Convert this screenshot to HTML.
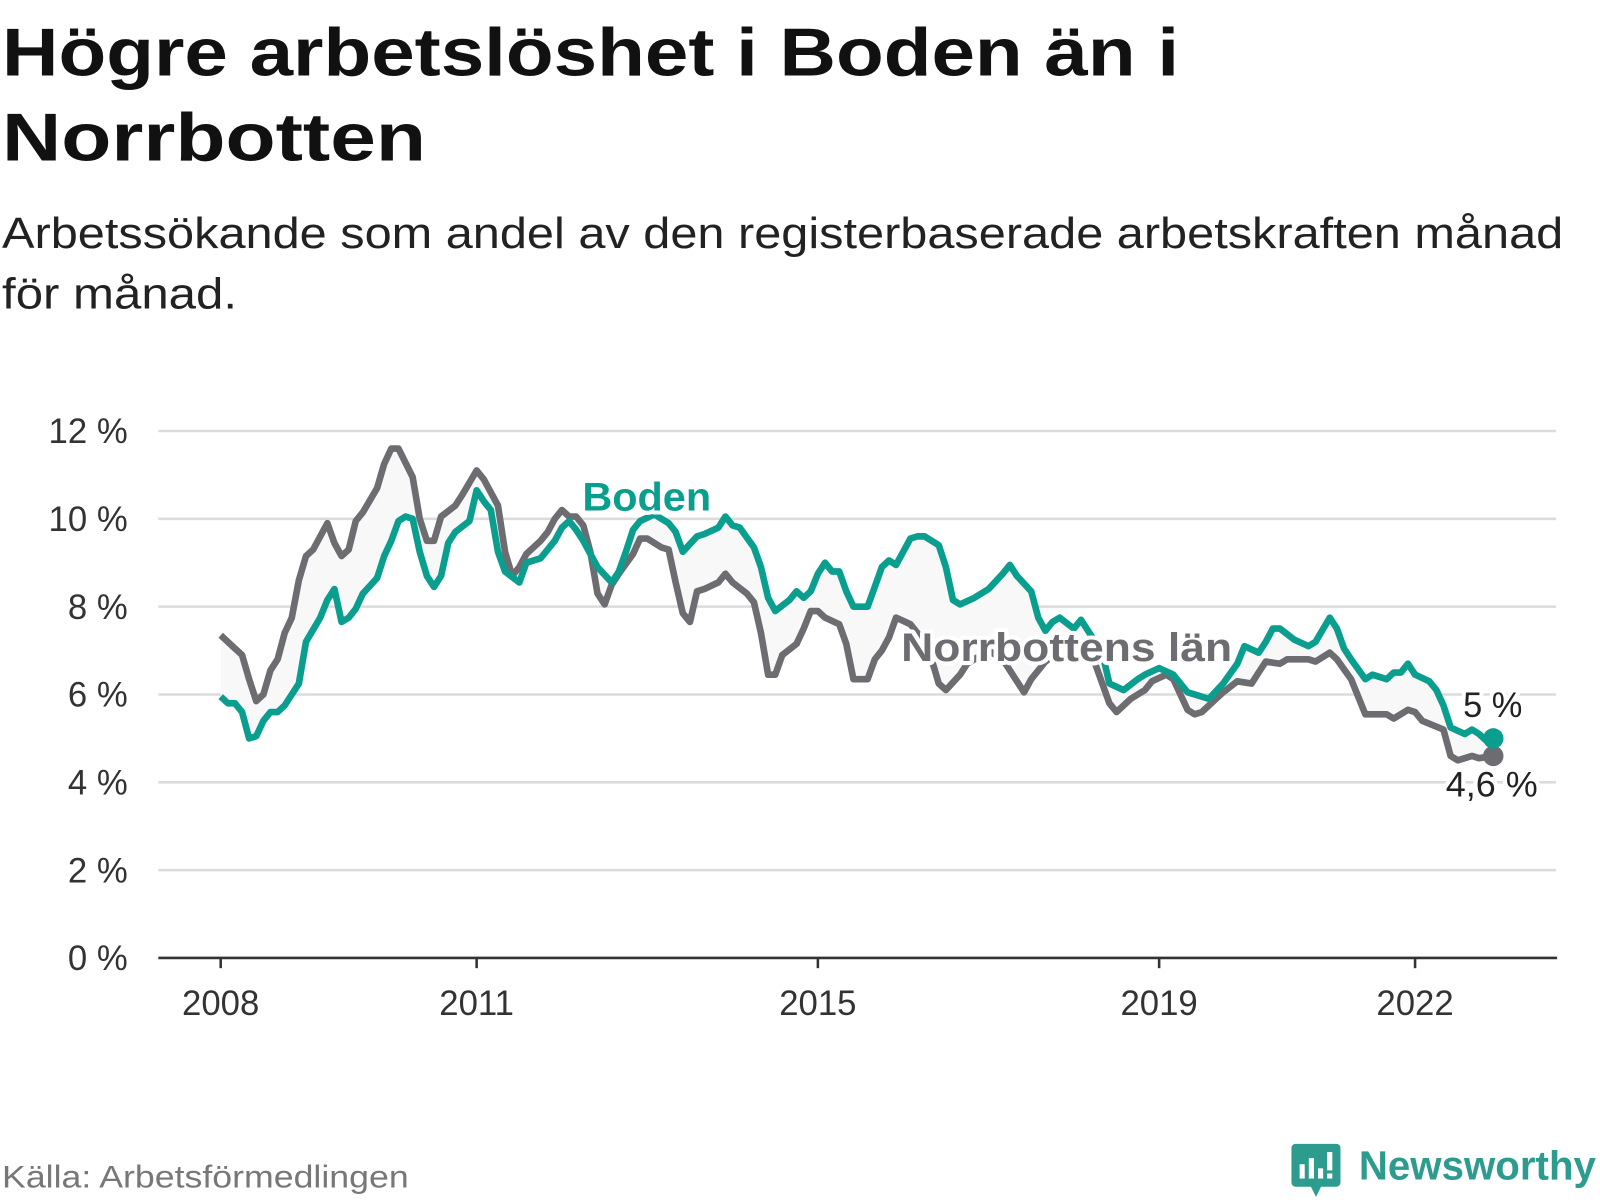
<!DOCTYPE html>
<html><head><meta charset="utf-8"><style>
html,body{margin:0;padding:0;background:#fff;}
svg{display:block;font-family:"Liberation Sans","DejaVu Sans",sans-serif;}
</style></head><body>
<svg id="chart" width="1600" height="1200" viewBox="0 0 1566 1175" preserveAspectRatio="none" xmlns="http://www.w3.org/2000/svg">
<text x="2" y="74" font-size="66" font-weight="bold" fill="#111" textLength="1152" lengthAdjust="spacingAndGlyphs">Högre arbetslöshet i Boden än i</text>
<text x="2" y="157" font-size="66" font-weight="bold" fill="#111" textLength="415" lengthAdjust="spacingAndGlyphs">Norrbotten</text>
<text x="2" y="243" font-size="43" fill="#222" textLength="1528" lengthAdjust="spacingAndGlyphs">Arbetssökande som andel av den registerbaserade arbetskraften månad</text>
<text x="2" y="302" font-size="43" fill="#222" textLength="230" lengthAdjust="spacingAndGlyphs">för månad.</text>
<g id="grid"></g>
<g id="marks"></g>
<text x="2" y="1163" font-size="31" fill="#777" textLength="398" lengthAdjust="spacingAndGlyphs">Källa: Arbetsförmedlingen</text>
<g>
<rect x="1264" y="1120" width="48" height="42" rx="4" fill="#2d9c8f"/>
<polygon points="1282,1160 1294,1160 1288,1172" fill="#2d9c8f"/>
<rect x="1272" y="1140" width="5" height="14" fill="#fff"/><rect x="1281" y="1134" width="5" height="20" fill="#fff"/><rect x="1290" y="1144" width="5" height="10" fill="#fff"/><rect x="1299" y="1128" width="5" height="18" fill="#fff"/><rect x="1299" y="1149" width="5" height="5" fill="#fff"/>
<text x="1330" y="1155" font-size="40" font-weight="bold" fill="#2d9c8f" textLength="232" lengthAdjust="spacingAndGlyphs">Newsworthy</text>
</g>
</svg>
<script>
const yTicks=[0,2,4,6,8,10,12];
const xTickYears=[2008,2011,2015,2019,2022];
const grayMonths=[0,2,3,4,5,6,7,8,9,10,11,12,13,15,16,17,18,19,20,22,23,24,25,27,28,29,30,31,33,34,36,37,39,40,41,42,43,45,46,47,48,49,50,51,52,53,54,55,56,58,59,60,62,63,64,65,66,67,68,70,71,72,74,75,76,77,78,79,81,82,83,84,85,87,88,89,91,92,93,94,95,97,98,100,101,102,104,105,108,110,113,114,116,118,121,123,125,126,128,130,131,133,134,136,137,138,140,141,143,145,146,147,149,150,153,154,156,157,159,161,164,165,167,168,169,172,173,174,176,177,179];
const grayValues=[7.35,7.05,6.9,6.35,5.85,6.0,6.55,6.8,7.4,7.75,8.6,9.15,9.3,9.9,9.45,9.15,9.3,9.95,10.15,10.7,11.25,11.6,11.6,10.95,10.0,9.5,9.5,10.05,10.3,10.55,11.1,10.9,10.3,9.25,8.7,8.9,9.2,9.5,9.7,10.0,10.2,10.05,10.05,9.85,9.25,8.3,8.05,8.5,8.75,9.2,9.55,9.55,9.35,9.3,8.55,7.85,7.65,8.35,8.4,8.55,8.75,8.55,8.3,8.1,7.4,6.45,6.45,6.9,7.15,7.5,7.9,7.9,7.75,7.6,7.15,6.35,6.35,6.8,7.0,7.3,7.75,7.6,7.4,6.8,6.25,6.1,6.45,6.7,7.0,6.8,6.05,6.35,6.75,7.0,6.9,6.7,5.8,5.6,5.9,6.1,6.3,6.45,6.35,5.65,5.55,5.6,5.9,6.05,6.3,6.25,6.5,6.75,6.7,6.8,6.8,6.75,6.95,6.8,6.35,5.55,5.55,5.45,5.65,5.6,5.4,5.2,4.6,4.5,4.6,4.55,4.6];
const bodenMonths=[0,1,2,3,4,5,6,7,8,9,11,12,14,15,16,17,18,19,20,22,23,24,25,26,27,28,29,30,31,32,33,35,36,37,38,39,40,42,43,45,47,48,49,50,51,53,55,56,57,58,59,61,63,64,65,67,68,70,71,72,73,75,76,77,78,80,81,82,83,84,85,86,87,88,89,91,92,93,94,95,97,98,99,101,102,103,104,106,108,110,111,112,114,115,116,117,118,120,121,124,125,127,129,130,132,134,136,137,139,141,143,144,146,147,148,149,151,153,154,156,157,158,159,161,162,164,165,166,167,168,170,171,172,173,175,176,177,178,179];
const bodenValues=[5.95,5.8,5.8,5.6,5.0,5.05,5.4,5.6,5.6,5.75,6.25,7.2,7.75,8.15,8.4,7.65,7.75,7.95,8.3,8.65,9.15,9.5,9.95,10.05,10.0,9.25,8.7,8.45,8.7,9.45,9.7,9.95,10.65,10.4,10.2,9.25,8.8,8.55,9.0,9.1,9.5,9.8,9.95,9.75,9.5,8.9,8.55,8.8,9.25,9.75,9.95,10.1,9.9,9.7,9.25,9.6,9.65,9.8,10.05,9.85,9.8,9.35,8.9,8.2,7.9,8.15,8.35,8.2,8.35,8.75,9.0,8.8,8.8,8.35,8.0,8.0,8.45,8.9,9.05,8.95,9.55,9.6,9.6,9.4,8.9,8.15,8.05,8.2,8.4,8.75,8.95,8.7,8.35,7.75,7.45,7.65,7.75,7.5,7.7,6.95,6.25,6.1,6.35,6.45,6.6,6.45,6.05,6.0,5.9,6.25,6.7,7.1,6.95,7.2,7.5,7.5,7.25,7.1,7.2,7.75,7.5,7.05,6.8,6.35,6.45,6.35,6.5,6.5,6.7,6.45,6.3,6.1,5.75,5.25,5.1,5.2,5.1,4.95,5.0];
const NS="http://www.w3.org/2000/svg";
const X0=155,X1=1523,Y0=938,PXV=43;
function xm(m){return 216+m*(83.5/12);}
function xy(yr){return 216+(yr-2008)*83.5;}
function yv(v){return Y0-v*PXV;}
function mk(tag,attrs,parent){const e=document.createElementNS(NS,tag);for(const k in attrs)e.setAttribute(k,attrs[k]);parent.appendChild(e);return e;}
const grid=document.getElementById('grid'),marks=document.getElementById('marks');
yTicks.forEach(t=>{
  if(t>0){const l=mk('line',{x1:X0,x2:X1,y1:yv(t),y2:yv(t),stroke:'#dcdcdc','stroke-width':2.5},grid);
  
  }
  const tx=mk('text',{x:125,y:yv(t)+12,'text-anchor':'end','font-size':34,fill:'#333'},grid);
  tx.textContent=t+' %';
  
  
});
const ax=mk('line',{x1:X0,x2:X1+1,y1:Y0,y2:Y0,stroke:'#333','stroke-width':2.5},grid);


xTickYears.forEach(yr=>{
  const t=mk('line',{x1:xy(yr),x2:xy(yr),y1:Y0,y2:Y0+10,stroke:'#333','stroke-width':2.5},grid);
  
  
  const tx=mk('text',{x:xy(yr),y:994,'text-anchor':'middle','font-size':34,fill:'#333'},grid);
  tx.textContent=yr;
  
  
});
const bPts=bodenMonths.map((m,i)=>xm(m).toFixed(1)+','+yv(bodenValues[i]).toFixed(1));
const gPts=grayMonths.map((m,i)=>xm(m).toFixed(1)+','+yv(grayValues[i]).toFixed(1));
const area=mk('polygon',{points:bPts.concat(gPts.slice().reverse()).join(' '),fill:'#f8f8f8'},marks);


const gl=mk('polyline',{points:gPts.join(' '),fill:'none',stroke:'#6d6c71','stroke-width':6.5,'stroke-linejoin':'round'},marks);


const bl=mk('polyline',{points:bPts.join(' '),fill:'none',stroke:'#0a9e8e','stroke-width':6.5,'stroke-linejoin':'round'},marks);


const gLast=grayMonths.length-1,bLast=bodenMonths.length-1;
const gd=mk('circle',{cx:xm(grayMonths[gLast]),cy:yv(grayValues[gLast]),r:10,fill:'#6d6c71'},marks);


const bd=mk('circle',{cx:xm(bodenMonths[bLast]),cy:yv(bodenValues[bLast]),r:10,fill:'#0a9e8e'},marks);


function label(txt,x,y,fill,size,weight,name,anchor,len){
  const h=mk('text',{x:x,y:y,'font-size':size,'font-weight':weight,fill:'#fff',stroke:'#fff','stroke-width':8,'stroke-linejoin':'round','text-anchor':anchor,textLength:len,lengthAdjust:'spacingAndGlyphs'},marks);
  h.textContent=txt;
  
  
  const t=mk('text',{x:x,y:y,'font-size':size,'font-weight':weight,fill:fill,'text-anchor':anchor,textLength:len,lengthAdjust:'spacingAndGlyphs'},marks);
  t.textContent=txt;
  
  
}
label('Boden',633,500,'#0a9e8e',39,'bold','boden-label','middle',126);
label('Norrbottens län',1044,647,'#6d6c71',39,'bold','norrbotten-label','middle',324);
label('5 %',1461,702,'#222',34,'normal','boden-end-value','middle',58);
label('4,6 %',1460,780,'#222',34,'normal','norrbotten-end-value','middle',90);
</script>
</body></html>
